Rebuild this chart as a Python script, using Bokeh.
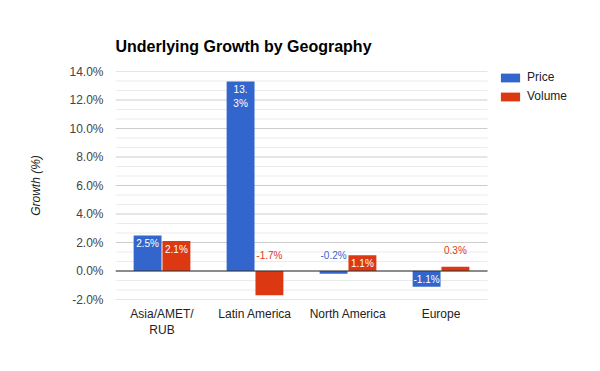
from bokeh.plotting import figure
from bokeh.models import (ColumnDataSource, FixedTicker, PrintfTickFormatter,
                          Range1d, Legend, LegendItem)
from bokeh.core.properties import value
from bokeh.embed import file_html
from bokeh.resources import INLINE

# ---- data ----
categories = ["Asia/AMET/\nRUB", "Latin America", "North America", "Europe"]
series_names = ["Price", "Volume"]
price = [2.5, 13.3, -0.2, -1.1]
volume = [2.1, -1.7, 1.1, 0.3]
price_labels = ["2.5%", "13.\n3%", "-0.2%", "-1.1%"]
volume_labels = ["2.1%", "-1.7%", "1.1%", "0.3%"]
price_label_inside = [True, True, False, True]
volume_label_inside = [True, False, True, False]
y_ticks = [-2, 0, 2, 4, 6, 8, 10, 12, 14]

# ---- style / layout ----
FONT = "Liberation Sans"
colors = ["#3366cc", "#dc3912"]
offsets = [-0.155, 0.155]
bar_width = 0.3
W, H = 584, 355
LEFT, TOP, PLOT_W, PLOT_H = 115, 71, 372, 228
px_per_cat = PLOT_W / len(categories)
px_per_unit = PLOT_H / float(y_ticks[-1] - y_ticks[0])
x_lo = -0.5
x_hi_plot = len(categories) - 0.5
x_hi = x_lo + (W - LEFT) / px_per_cat   # frame extends right to hold the legend

minor = []
for a, b in zip(y_ticks[:-1], y_ticks[1:]):
    minor += [a + (b - a) / 3.0, a + 2 * (b - a) / 3.0]

p = figure(width=W, height=H, x_range=Range1d(x_lo, x_hi), y_range=Range1d(y_ticks[0], y_ticks[-1]),
           output_backend="svg", toolbar_location=None,
           min_border_left=LEFT, min_border_right=0, min_border_top=TOP,
           min_border_bottom=H - TOP - PLOT_H)
p.outline_line_color = None
p.background_fill_color = "white"
p.border_fill_color = "white"

# title
p.title.text = "Underlying Growth by Geography"
p.title.align = "left"
p.title.text_font = FONT
p.title.text_font_size = "16px"
p.title.text_font_style = "bold"
p.title.text_color = "#000000"
p.title.standoff = 34

# grid lines (drawn only across the plotting area)
p.xgrid.visible = False
p.ygrid.visible = False
p.segment(x0=x_lo, x1=x_hi_plot, y0=minor, y1=minor, line_color="#ebebeb", line_width=1)
p.segment(x0=x_lo, x1=x_hi_plot, y0=y_ticks, y1=y_ticks, line_color="#cccccc", line_width=1)

# y axis
p.yaxis.ticker = FixedTicker(ticks=y_ticks)
p.yaxis.formatter = PrintfTickFormatter(format="%.1f%%")
p.yaxis.axis_line_color = None
p.yaxis.major_tick_line_color = None
p.yaxis.minor_tick_line_color = None
p.yaxis.major_tick_out = 0
p.yaxis.minor_tick_out = 0
p.yaxis.major_label_standoff = 12
p.yaxis.major_label_text_font = FONT
p.yaxis.major_label_text_font_size = "12px"
p.yaxis.major_label_text_color = "#444444"
p.yaxis.axis_label = "Growth (%)"
p.yaxis.axis_label_text_font = FONT
p.yaxis.axis_label_text_font_size = "12px"
p.yaxis.axis_label_text_font_style = "italic"
p.yaxis.axis_label_text_color = "#222222"
p.yaxis.axis_label_standoff = 23

# x axis
p.xaxis.ticker = FixedTicker(ticks=list(range(len(categories))))
p.xaxis.major_label_overrides = {i: c for i, c in enumerate(categories)}
p.xaxis.axis_line_color = None
p.xaxis.major_tick_line_color = None
p.xaxis.minor_tick_line_color = None
p.xaxis.major_tick_out = 0
p.xaxis.minor_tick_out = 0
p.xaxis.major_label_standoff = 7
p.xaxis.major_label_text_font = FONT
p.xaxis.major_label_text_font_size = "12px"
p.xaxis.major_label_text_color = "#222222"

# bars
renderers = []
ins_x, ins_y, ins_t = [], [], []
out_x, out_y, out_t, out_c = [], [], [], []
for vals, labs, inside, off, col in zip([price, volume], [price_labels, volume_labels],
                                        [price_label_inside, volume_label_inside], offsets, colors):
    xs = [i + off for i in range(len(vals))]
    src = ColumnDataSource(dict(x=xs, top=vals))
    r = p.vbar(x="x", top="top", bottom=0, width=bar_width, source=src,
               fill_color=col, line_color=None)
    renderers.append(r)
    for x, v, t, ins in zip(xs, vals, labs, inside):
        upper = max(v, 0)
        if ins:
            ins_x.append(x); ins_y.append(upper - 2.5 / px_per_unit); ins_t.append(t)
        else:
            out_x.append(x); out_y.append(upper + 16.0 / px_per_unit); out_t.append(t); out_c.append(col)

# zero baseline
p.segment(x0=[x_lo], x1=[x_hi_plot], y0=[0], y1=[0], line_color="#333333", line_width=1)

p.text(x=ins_x, y=ins_y, text=ins_t, text_align="center", text_baseline="top",
       text_font=value(FONT), text_font_size="10px", text_color="white", text_line_height=1.25)
p.text(x=out_x, y=out_y, text=out_t, text_color=out_c, text_align="center", text_baseline="middle",
       text_font=value(FONT), text_font_size="10px")

# legend (inside the extended frame, to the right of the plotting area)
legend = Legend(items=[LegendItem(label=n, renderers=[r]) for n, r in zip(series_names, renderers)],
                location=(PLOT_W + 11, PLOT_H - 32), glyph_width=24, glyph_height=11, label_height=11,
                label_standoff=5, spacing=5, padding=0, margin=0,
                border_line_color=None, background_fill_alpha=0,
                label_text_font=FONT, label_text_font_size="12px", label_text_color="#222222")
p.add_layout(legend, "center")

open("out.html", "w").write(file_html(p, INLINE))
